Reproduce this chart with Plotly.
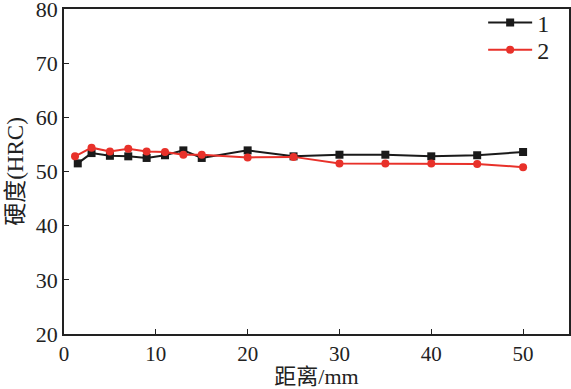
import plotly.graph_objects as go

x1 = [1.5, 3, 5, 7, 9, 11, 13, 15, 20, 25, 30, 35, 40, 45, 50]
y1 = [51.5, 53.4, 52.9, 52.8, 52.5, 53.0, 53.9, 52.5, 53.9, 52.8, 53.1, 53.1, 52.8, 53.0, 53.6]
x2 = [1.2, 3, 5, 7, 9, 11, 13, 15, 20, 25, 30, 35, 40, 45, 50]
y2 = [52.8, 54.4, 53.7, 54.2, 53.7, 53.6, 53.1, 53.1, 52.6, 52.7, 51.5, 51.5, 51.5, 51.4, 50.8]
names = ["1", "2"]
x_title = "距离/mm"
y_title = "硬度(HRC)"

font_fam = "Liberation Serif, Times New Roman, Noto Sans CJK SC, serif"

fig = go.Figure()
fig.add_trace(go.Scatter(x=x1, y=y1, name=names[0], mode="lines+markers", legend="legend",
                         line=dict(color="#1a1a1a", width=2),
                         marker=dict(symbol="square", size=8, color="#1a1a1a")))
fig.add_trace(go.Scatter(x=x2, y=y2, name=names[1], mode="lines+markers", legend="legend2",
                         line=dict(color="#e8312a", width=2),
                         marker=dict(symbol="circle", size=8, color="#e8312a")))

axis_common = dict(showline=True, linecolor="#222", linewidth=1.5, mirror=True,
                   ticks="inside", ticklen=5, tickcolor="#222", tickwidth=1.2,
                   showgrid=False, zeroline=False, automargin=False,
                   ticklabeloverflow="allow")

leg_common = dict(xanchor="left", yanchor="top", bgcolor="rgba(0,0,0,0)",
                  font=dict(family=font_fam, size=24, color="#222"), itemwidth=44)

fig.update_layout(
    width=571, height=389,
    margin=dict(l=64, r=2, t=8, b=55),
    paper_bgcolor="white", plot_bgcolor="white",
    showlegend=True,
    legend=dict(x=0.83, y=1.023, **leg_common),
    legend2=dict(x=0.83, y=0.94, **leg_common),
    xaxis=dict(range=[0, 55], tickvals=[0, 10, 20, 30, 40, 50],
               tickfont=dict(family=font_fam, size=21, color="#222"),
               title=dict(text=x_title, font=dict(family=font_fam, size=22, color="#222"), standoff=4),
               **axis_common),
    yaxis=dict(range=[20, 80], tickvals=[20, 30, 40, 50, 60, 70, 80],
               tickfont=dict(family=font_fam, size=22, color="#222"),
               title=dict(text=y_title, font=dict(family=font_fam, size=23, color="#222"), standoff=6),
               **axis_common),
)

fig.write_html("out.html", config={"displayModeBar": False},
               post_script="document.body.style.margin='0';document.body.style.overflow='hidden';")
